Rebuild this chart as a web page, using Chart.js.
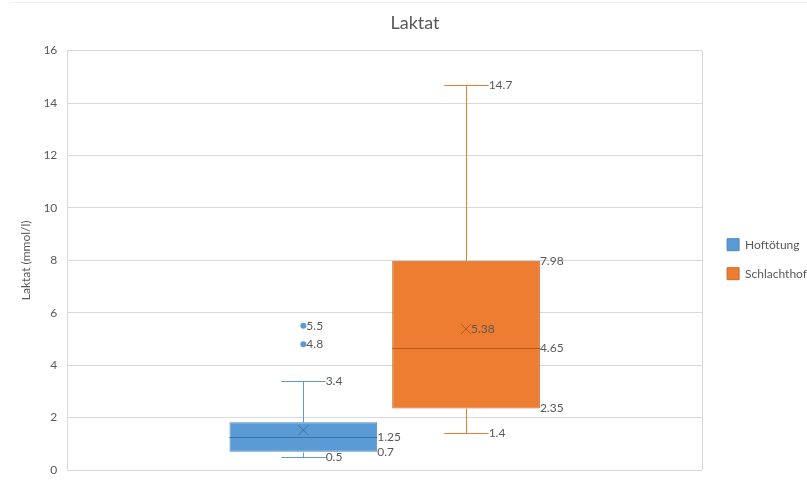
<!DOCTYPE html>
<html>
<head>
<meta charset="utf-8">
<script src="https://cdn.jsdelivr.net/npm/chart.js@4/dist/chart.umd.min.js"></script>
<style>
  html, body { margin: 0; padding: 0; background: #fff; }
  #wrap { position: relative; width: 807px; height: 482px; overflow: hidden; }
  #chart { display: block; }
  #topline { position: absolute; top: 2px; left: 10px; right: 0; height: 1px; background: #efefef; }
</style>
</head>
<body>
<div id="wrap">
  <div id="topline"></div>
  <canvas id="chart" width="807" height="482"></canvas>
</div>
<script>
// Laktat box plot data, one entry per group
const categories = ['Hoftötung', 'Schlachthof'];
const minValues = [0.5, 1.4];
const q1Values = [0.7, 2.35];
const medianValues = [1.25, 4.65];
const q3Values = [1.82, 7.98];
const maxValues = [3.4, 14.7];
const meanValues = [1.52, 5.38];
const outlierValues = [[5.5, 4.8], []];
// which values get a text label next to them
const shownLabels = [
  ['max', 'median', 'q1', 'min', 'outliers'],
  ['max', 'q3', 'mean', 'median', 'q1', 'min']
];
const yTickMin = 0, yTickMax = 16, yTickStep = 2;

const fills = ['#5B9BD5', '#ED7D31'];
const borders = ['#4A85BD', '#C8692A'];
const darks = ['#41719C', '#B35B1F'];
const textColor = '#595959';
const fontFamily = 'Lato, "Open Sans", sans-serif';

const boxWhiskers = {
  id: 'boxWhiskers',
  afterDatasetsDraw(chart) {
    const ctx = chart.ctx;
    const y = chart.scales.y;
    ctx.save();
    ctx.font = '12px ' + fontFamily;
    ctx.textBaseline = 'middle';
    ctx.textAlign = 'left';
    chart.data.datasets.forEach((ds, i) => {
      const bar = chart.getDatasetMeta(i).data[0];
      const cx = Math.round(bar.x) + 0.5;
      const right = bar.x + bar.width / 2;
      const cap = bar.width * 0.15;
      const py = v => Math.round(y.getPixelForValue(v)) + 0.5;
      const shown = shownLabels[i];

      // whiskers and caps
      ctx.strokeStyle = fills[i];
      ctx.lineWidth = 1;
      ctx.beginPath();
      ctx.moveTo(cx, py(q3Values[i])); ctx.lineTo(cx, py(maxValues[i]));
      ctx.moveTo(cx - cap, py(maxValues[i])); ctx.lineTo(cx + cap, py(maxValues[i]));
      ctx.moveTo(cx, py(q1Values[i])); ctx.lineTo(cx, py(minValues[i]));
      ctx.moveTo(cx - cap, py(minValues[i])); ctx.lineTo(cx + cap, py(minValues[i]));
      ctx.stroke();

      // median
      ctx.strokeStyle = darks[i];
      ctx.beginPath();
      ctx.moveTo(bar.x - bar.width / 2, py(medianValues[i]));
      ctx.lineTo(right, py(medianValues[i]));
      ctx.stroke();

      // mean marker
      const my = y.getPixelForValue(meanValues[i]);
      ctx.beginPath();
      ctx.moveTo(bar.x - 5, my - 5); ctx.lineTo(bar.x + 5, my + 5);
      ctx.moveTo(bar.x + 5, my - 5); ctx.lineTo(bar.x - 5, my + 5);
      ctx.stroke();

      // outliers
      ctx.fillStyle = fills[i];
      outlierValues[i].forEach(v => {
        ctx.beginPath();
        ctx.arc(bar.x, y.getPixelForValue(v), 3, 0, Math.PI * 2);
        ctx.fill();
      });

      // value labels
      ctx.fillStyle = textColor;
      const label = (v, x) => ctx.fillText(String(v), x, y.getPixelForValue(v));
      if (shown.includes('max')) label(maxValues[i], cx + cap);
      if (shown.includes('min')) label(minValues[i], cx + cap);
      if (shown.includes('q3')) label(q3Values[i], right);
      if (shown.includes('median')) label(medianValues[i], right);
      if (shown.includes('q1')) label(q1Values[i], right);
      if (shown.includes('mean')) label(meanValues[i], bar.x + 5);
      if (shown.includes('outliers')) outlierValues[i].forEach(v => label(v, bar.x + 3));
    });
    ctx.restore();
  }
};

new Chart(document.getElementById('chart'), {
  type: 'bar',
  data: {
    labels: [''],
    datasets: categories.map((name, i) => ({
      label: name,
      data: [[q1Values[i], q3Values[i]]],
      backgroundColor: fills[i],
      borderColor: borders[i],
      borderWidth: 1,
      borderSkipped: false,
      categoryPercentage: 0.5126,
      barPercentage: 0.908
    }))
  },
  options: {
    responsive: false,
    animation: false,
    layout: { padding: { left: 13, right: -10, bottom: 12 } },
    plugins: {
      title: {
        display: true,
        text: 'Laktat',
        color: textColor,
        font: { family: fontFamily, size: 18, weight: 'normal' },
        padding: { top: 12, bottom: 17 }
      },
      legend: {
        position: 'right',
        title: { display: true, text: ' ', padding: { top: 0, bottom: 34 } },
        labels: {
          color: textColor,
          font: { family: fontFamily, size: 12 },
          boxWidth: 12,
          boxHeight: 12,
          padding: 17
        }
      },
      tooltip: { enabled: false }
    },
    scales: {
      x: {
        offset: true,
        grid: { display: true, color: '#D9D9D9', drawTicks: false, offset: true },
        border: { display: false },
        ticks: { display: false },
        afterFit(axis) { axis.height = 0; }
      },
      y: {
        min: yTickMin,
        max: yTickMax,
        ticks: {
          stepSize: yTickStep,
          color: textColor,
          font: { family: fontFamily, size: 12 },
          padding: 10
        },
        grid: { color: '#D9D9D9', drawTicks: false },
        border: { display: true, color: '#D9D9D9' },
        title: {
          display: true,
          text: 'Laktat (mmol/l)',
          color: textColor,
          font: { family: fontFamily, size: 12 },
          padding: { top: 6, bottom: 0 }
        },
        // tick padding should not push the plot bottom up
        afterFit(axis) { axis.paddingBottom = 0; axis.paddingTop = 0; }
      },
      // empty axis that keeps a gap between the plot and the legend
      gap: {
        position: 'right',
        display: true,
        grid: { display: false },
        border: { display: false },
        ticks: { display: false },
        afterFit(axis) { axis.width = 8; }
      }
    }
  },
  plugins: [boxWhiskers]
});
</script>
</body>
</html>
